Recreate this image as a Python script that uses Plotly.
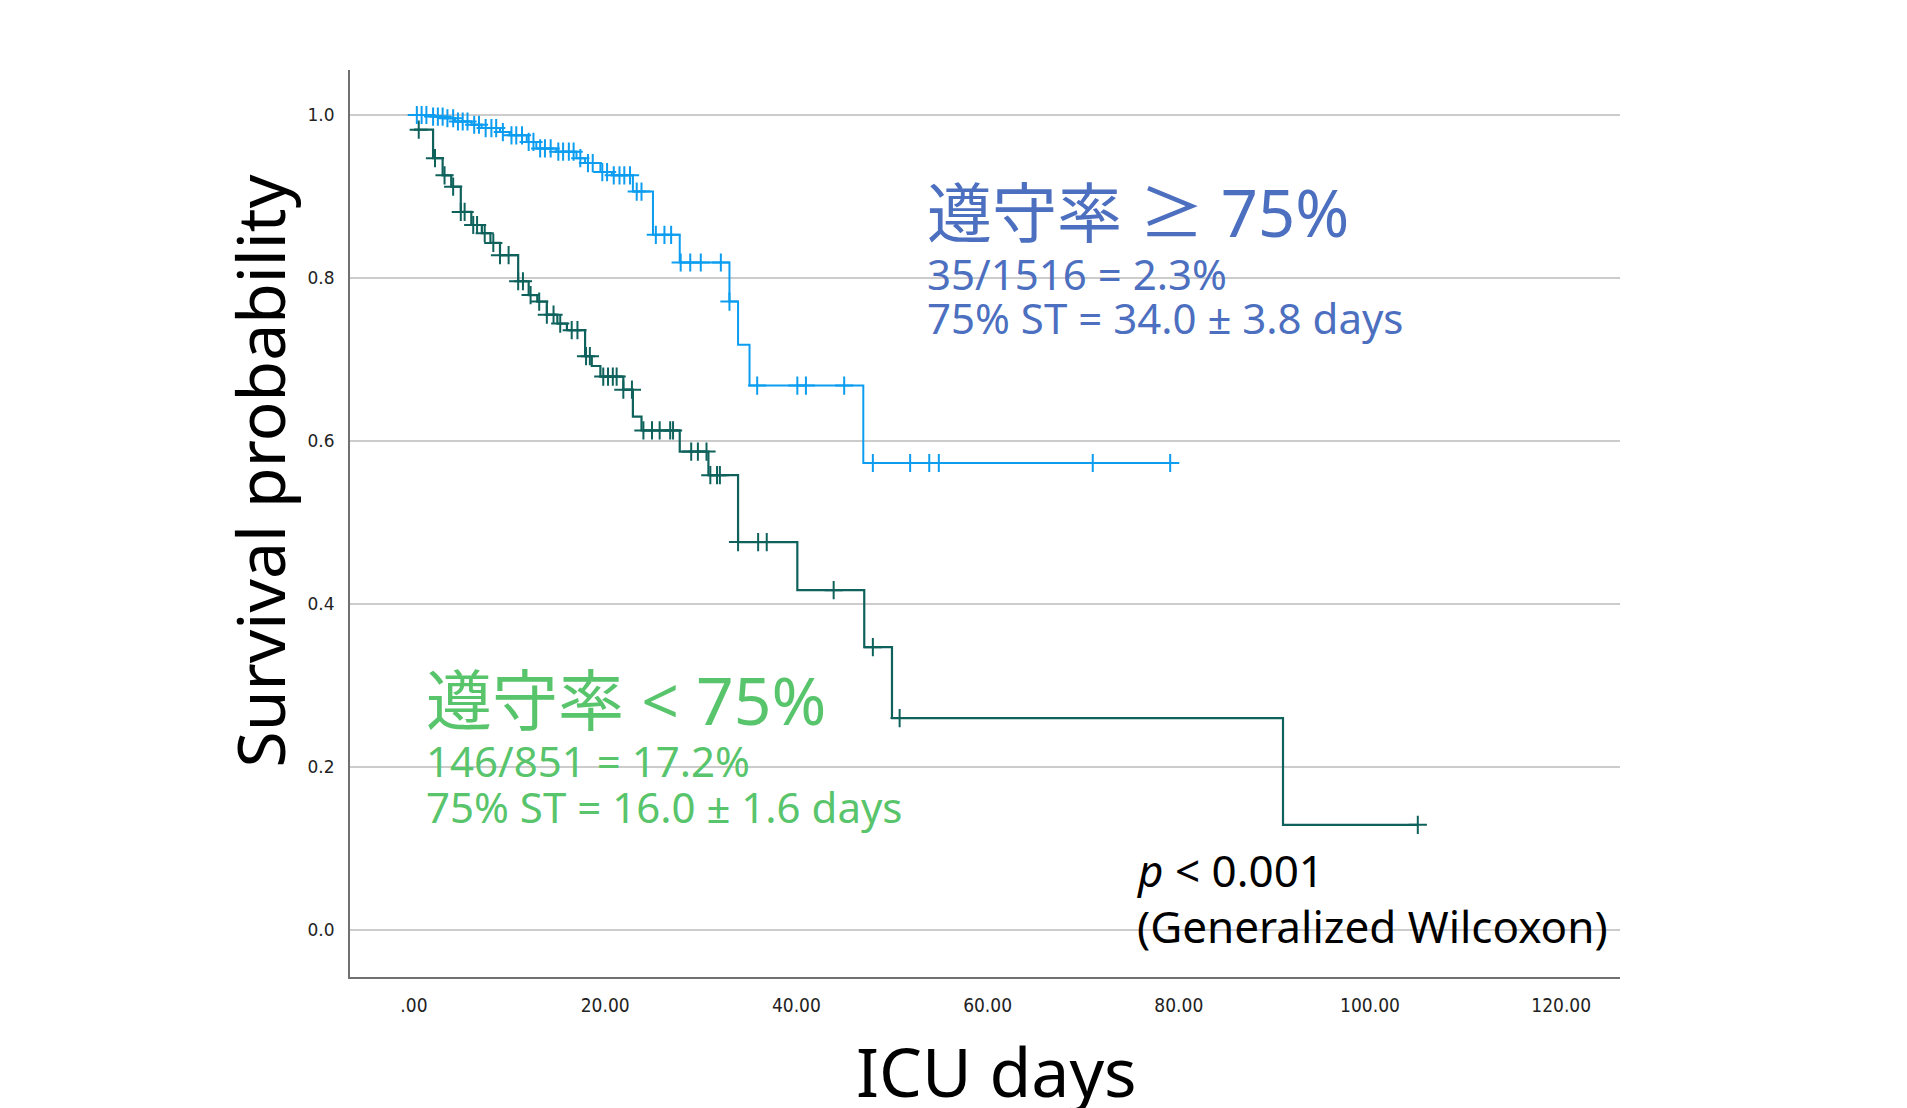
import numpy as np
import plotly.graph_objects as go

# Kaplan-Meier step data (ICU days, survival probability after each event)
high_times = [0, 1.85, 3.07, 4.29, 6.03, 7.08, 9.0, 10.0, 11.8, 12.8, 14.9, 17.0, 17.9,
              19.5, 20.7, 22.9, 25.0, 27.8, 33.0, 33.9, 35.1, 47.0]
high_surv = [1.0, 0.998, 0.996, 0.992, 0.988, 0.984, 0.979, 0.975, 0.967, 0.959, 0.955,
             0.947, 0.941, 0.930, 0.926, 0.906, 0.853, 0.819, 0.771, 0.718, 0.668, 0.573]
high_end = 79.1
high_censored = [0.3, 0.8, 1.3, 2.0, 2.5, 3.0, 3.5, 4.1, 4.6, 5.1, 5.6, 6.3, 6.8, 7.5, 8.1,
                 8.6, 9.3, 10.2, 10.7, 11.3, 12.0, 12.5, 13.2, 13.7, 14.3, 15.1, 15.6, 16.2,
                 16.7, 17.4, 18.2, 18.7, 19.7, 20.2, 20.9, 21.5, 22.0, 22.6, 23.3, 23.8,
                 25.3, 26.2, 26.9, 27.9, 28.9, 30.0, 32.1, 33.0, 35.9, 40.1, 41.0, 45.0,
                 48.0, 51.9, 53.9, 54.9, 71.0, 79.1]

low_times = [0, 2.0, 3.0, 3.9, 4.9, 6.0, 7.1, 8.0, 9.0, 10.9, 12.0, 12.9, 13.9, 15.0, 16.0,
             17.9, 18.6, 19.5, 21.9, 22.9, 23.8, 27.8, 30.8, 33.9, 40.1, 47.1, 50.0, 90.9]
low_surv = [0.982, 0.947, 0.926, 0.912, 0.881, 0.865, 0.855, 0.843, 0.828, 0.796, 0.779,
            0.771, 0.755, 0.744, 0.736, 0.704, 0.692, 0.679, 0.663, 0.630, 0.613, 0.587,
            0.558, 0.476, 0.417, 0.347, 0.260, 0.129]
low_end = 105.0
low_censored = [0.5, 2.2, 3.2, 4.1, 4.9, 5.3, 6.2, 6.6, 7.4, 8.3, 9.0, 9.9, 10.9, 11.4, 12.2,
                13.1, 13.9, 14.6, 15.3, 16.5, 17.1, 18.0, 18.4, 19.8, 20.3, 20.8, 21.2, 21.9,
                22.8, 24.0, 24.9, 25.7, 26.8, 27.1, 29.0, 29.7, 30.6, 31.0, 31.7, 32.0, 33.9,
                36.0, 36.9, 43.9, 48.0, 50.8, 105.0]

x_tickvals = [0, 20, 40, 60, 80, 100, 120]
x_ticktext = [".00", "20.00", "40.00", "60.00", "80.00", "100.00", "120.00"]
y_tickvals = [0.0, 0.2, 0.4, 0.6, 0.8, 1.0]
y_ticktext = ["0.0", "0.2", "0.4", "0.6", "0.8", "1.0"]

HIGH_COLOR = "#0c9df0"
LOW_COLOR = "#0f625c"
HIGH_TEXT = "#4c6fc0"
LOW_TEXT = "#58c46b"
TEXT_FONT = "Noto Sans, Noto Sans CJK JP, sans-serif"


def step_xy(times, surv, end):
    xs = list(times) + [end]
    ys = list(surv) + [surv[-1]]
    return xs, ys


def surv_at(times, surv, t):
    idx = np.searchsorted(np.asarray(times), t, side="right") - 1
    return float(np.asarray(surv)[max(idx, 0)])


fig = go.Figure()

for times, surv, end, cens, color, width in [
    (low_times, low_surv, low_end, low_censored, LOW_COLOR, 2.2),
    (high_times, high_surv, high_end, high_censored, HIGH_COLOR, 2.0),
]:
    xs, ys = step_xy(times, surv, end)
    fig.add_trace(go.Scatter(x=xs, y=ys, mode="lines", line=dict(color=color, width=width, shape="hv"),
                             showlegend=False, hoverinfo="skip"))
    fig.add_trace(go.Scatter(
        x=cens, y=[surv_at(times, surv, t) for t in cens], mode="markers",
        marker=dict(symbol="cross-thin", size=13, line=dict(color=color, width=2)),
        showlegend=False, hoverinfo="skip"))

annotations = [
    dict(x=53.5, y=0.881, text="遵守率 ≥ 75%", font=dict(size=65, color=HIGH_TEXT)),
    dict(x=53.5, y=0.806, text="35/1516 = 2.3%", font=dict(size=42, color=HIGH_TEXT)),
    dict(x=53.5, y=0.751, text="75% ST = 34.0 ± 3.8 days", font=dict(size=42, color=HIGH_TEXT)),
    dict(x=1.0, y=0.284, text="遵守率 < 75%", font=dict(size=66, color=LOW_TEXT)),
    dict(x=1.0, y=0.208, text="146/851 = 17.2%", font=dict(size=42, color=LOW_TEXT)),
    dict(x=1.0, y=0.152, text="75% ST = 16.0 ± 1.6 days", font=dict(size=42, color=LOW_TEXT)),
    dict(x=75.4, y=0.074, text="<i>p</i> < 0.001", font=dict(size=44, color="#000000")),
    dict(x=75.4, y=0.005, text="(Generalized Wilcoxon)", font=dict(size=44, color="#000000")),
]
for a in annotations:
    a.update(xref="x", yref="y", xanchor="left", yanchor="middle", showarrow=False)
    a["font"]["family"] = TEXT_FONT

# axis titles
annotations.append(dict(text="Survival probability", xref="paper", yref="paper", x=-0.072, y=0.558,
                        xanchor="center", yanchor="middle", textangle=-90, showarrow=False,
                        font=dict(size=66, family=TEXT_FONT, color="#000000")))
annotations.append(dict(text="ICU days", xref="paper", yref="paper", x=0.509, y=-0.05,
                        xanchor="center", yanchor="top", showarrow=False,
                        font=dict(size=68, family=TEXT_FONT, color="#000000")))

fig.update_layout(
    width=1907, height=1108,
    margin=dict(l=350, r=287, t=70, b=131),
    paper_bgcolor="white", plot_bgcolor="white",
    annotations=annotations,
    xaxis=dict(range=[-6.69, 126.15], tickvals=x_tickvals, ticktext=x_ticktext,
               showgrid=False, zeroline=False, showline=True, linecolor="#707070", linewidth=2,
               ticks="", ticklabelstandoff=10,
               tickfont=dict(family="DejaVu Sans Condensed, Liberation Sans Narrow, DejaVu Sans",
                             size=19, color="#222222")),
    yaxis=dict(range=[-0.0577, 1.0552], tickvals=y_tickvals, ticktext=y_ticktext,
               showgrid=True, gridcolor="#cccccc", gridwidth=2, zeroline=False,
               showline=True, linecolor="#707070", linewidth=2,
               ticks="", ticklabelstandoff=10,
               tickfont=dict(family="DejaVu Sans", size=17, color="#222222")),
)

fig.write_html("out.html")
